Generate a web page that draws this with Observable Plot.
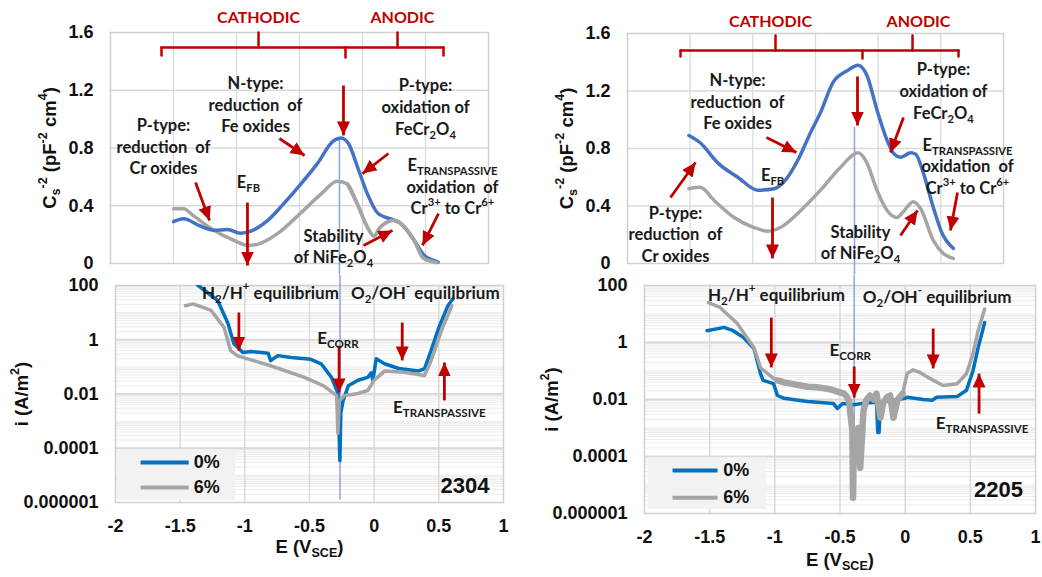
<!DOCTYPE html>
<html><head><meta charset="utf-8">
<script src="https://cdn.jsdelivr.net/npm/d3@7"></script>
<script src="https://cdn.jsdelivr.net/npm/@observablehq/plot@0.6"></script>
<style>
body{margin:0;background:#fff}
#wrap{position:relative;width:1042px;height:577px;overflow:hidden;background:#fff}
</style>
</head><body><div id="wrap"></div>
<script>
// ---------- DATA ----------
// Mott-Schottky, 2304
const ms2304E0 = [-1.5,-1.42,-1.29,-1.18,-1.07,-0.97,-0.87,-0.75,-0.63,-0.49,-0.36,-0.23,-0.17,-0.11,-0.04,0.04,0.12,0.25,0.30,0.41,0.49,0.57,0.60];
const ms2304C0 = [0.29,0.31,0.26,0.23,0.235,0.21,0.23,0.30,0.41,0.55,0.69,0.85,0.87,0.83,0.67,0.48,0.35,0.30,0.28,0.16,0.055,0.02,0.01];
const ms2304E6 = [-1.5,-1.42,-1.34,-1.18,-1.02,-0.91,-0.81,-0.67,-0.49,-0.33,-0.2,-0.12,-0.04,0.04,0.09,0.14,0.25,0.30,0.41,0.48,0.59];
const ms2304C6 = [0.38,0.38,0.33,0.23,0.16,0.125,0.14,0.21,0.35,0.48,0.57,0.55,0.41,0.25,0.19,0.25,0.30,0.28,0.16,0.04,0.007];
// Mott-Schottky, 2205
const ms2205E0 = [-1.51,-1.42,-1.28,-1.12,-0.96,-0.83,-0.75,-0.64,-0.54,-0.46,-0.36,-0.25,-0.16,-0.09,-0.01,0.07,0.12,0.18,0.26,0.30,0.36,0.44,0.51,0.60];
const ms2205C0 = [0.89,0.84,0.70,0.60,0.51,0.52,0.57,0.72,0.91,1.05,1.26,1.34,1.38,1.31,1.07,0.86,0.77,0.74,0.77,0.76,0.63,0.39,0.21,0.105];
const ms2205E6 = [-1.51,-1.42,-1.31,-1.15,-0.99,-0.88,-0.78,-0.64,-0.46,-0.30,-0.16,-0.09,-0.01,0.07,0.15,0.20,0.28,0.34,0.44,0.52,0.60];
const ms2205C6 = [0.52,0.53,0.44,0.32,0.25,0.225,0.25,0.35,0.51,0.67,0.77,0.70,0.51,0.37,0.32,0.36,0.43,0.38,0.16,0.07,0.035];
// Polarization, 2304
const pol2304E0 = [-1.40,-1.36,-1.21,-1.13,-1.085,-1.015,-0.95,-0.82,-0.80,-0.745,-0.64,-0.49,-0.41,-0.33,-0.28,-0.265,-0.258,-0.24,-0.20,-0.125,-0.05,-0.023,-0.01,0.016,0.08,0.19,0.34,0.39,0.44,0.50,0.57,0.61];
const pol2304I0 = [150,100,28,4,0.72,0.34,0.37,0.32,0.17,0.26,0.22,0.19,0.13,0.041,0.0105,0.000035,0.002,0.0057,0.02,0.032,0.041,0.06,0.032,0.2,0.13,0.087,0.07,0.087,0.4,2.8,18,33];
const pol2304E6 = [-1.46,-1.40,-1.26,-1.16,-1.11,-1.06,-1.01,-0.80,-0.54,-0.39,-0.29,-0.28,-0.27,-0.23,-0.125,-0.05,0.0,0.08,0.23,0.39,0.44,0.52,0.60];
const pol2304I6 = [18,21,12,2.8,0.4,0.26,0.22,0.11,0.041,0.02,0.0087,0.00035,0.0057,0.0087,0.0105,0.0135,0.032,0.07,0.063,0.048,0.17,2.2,18];
// Polarization, 2205
const pol2205E0 = [-1.52,-1.39,-1.32,-1.24,-1.16,-1.11,-1.09,-1.01,-0.98,-0.93,-0.75,-0.55,-0.52,-0.48,-0.40,-0.30,-0.22,-0.21,-0.20,-0.19,-0.11,0.0,0.015,0.14,0.21,0.24,0.40,0.47,0.52,0.56,0.61];
const pol2205I0 = [2.6,3.4,2.6,1.5,0.61,0.081,0.047,0.036,0.0138,0.011,0.0085,0.0072,0.0048,0.0072,0.0065,0.0075,0.008,0.0007,0.0007,0.008,0.009,0.011,0.012,0.01,0.0095,0.012,0.0127,0.021,0.1,0.66,5];
const pol2205E6 = [-1.51,-1.42,-1.29,-1.16,-1.11,-1.01,-0.98,-0.93,-0.88,-0.80,-0.75,-0.68,-0.63,-0.56,-0.52,-0.47,-0.45,-0.43,-0.42,-0.405,-0.40,-0.395,-0.38,-0.36,-0.345,-0.32,-0.30,-0.27,-0.24,-0.22,-0.19,-0.17,-0.14,-0.115,-0.09,-0.06,-0.02,0.015,0.06,0.11,0.19,0.29,0.40,0.47,0.52,0.56,0.61];
const pol2205I6 = [25,17,4.7,0.66,0.13,0.055,0.047,0.04,0.036,0.031,0.028,0.027,0.025,0.022,0.019,0.016,0.013,0.009,0.0032,0.0008,0.0000036,0.0002,0.00036,0.001,0.00004,0.004,0.009,0.0138,0.01,0.016,0.0023,0.0072,0.012,0.0138,0.0023,0.0095,0.016,0.081,0.11,0.09,0.055,0.031,0.036,0.08,0.4,2.6,15];

// Ticks
const xTickValues = [-2,-1.5,-1,-0.5,0,0.5,1];
const xTickLabels = ["-2","-1.5","-1","-0.5","0","0.5","1"];
const msTickValues = [0,0.4,0.8,1.2,1.6];
const msTickLabels = ["0","0.4","0.8","1.2","1.6"];
const polTickValues = [100,1,0.01,0.0001,0.000001];
const polTickLabels = ["100","1","0.01","0.0001","0.000001"];
const seriesNames = ["0%","6%"];

// Annotations (data coordinates)
const ms2304Notes = [
  {x:-1.579,y:0.817,t:"P-type:\nreduction  of\nCr oxides"},
  {x:-0.849,y:1.108,t:"N-type:\nreduction  of\nFe oxides"},
  {x:0.50,y:1.094,t:"P-type:\noxidation of\nFeCr_{2}O_{4}"},
  {x:-0.905,y:0.575,t:"E_{FB}"},
  {x:0.714,y:0.54,t:"E_{TRANSPASSIVE}\noxidation  of\nCr^{3+} to Cr^{6+}"},
  {x:-0.23,y:0.125,t:"Stability\nof NiFe_{2}O_{4}"}
];
const ms2304Arrows = [
  {x1:-1.325,y1:0.561,x2:-1.214,y2:0.298},
  {x1:-0.659,y1:0.866,x2:-0.460,y2:0.748},
  {x1:-0.151,y1:1.233,x2:-0.151,y2:0.887},
  {x1:0.206,y1:0.762,x2:0.0,y2:0.623},
  {x1:-0.913,y1:0.422,x2:-0.913,y2:-0.014},
  {x1:0.008,y1:0.125,x2:0.238,y2:0.229},
  {x1:0.603,y1:0.346,x2:0.476,y2:0.125}
];
const ms2304Bracket = [
  {x1:-1.595,y1:1.44,x2:-1.595,y2:1.496},{x1:-1.595,y1:1.496,x2:0.643,y2:1.496},{x1:0.643,y1:1.496,x2:0.643,y2:1.44},
  {x1:-0.825,y1:1.496,x2:-0.825,y2:1.6},{x1:0.278,y1:1.496,x2:0.278,y2:1.6},{x1:-0.135,y1:1.496,x2:-0.135,y2:1.427}
];
const ms2304Regions = [{x:-0.825,y:1.704,t:"CATHODIC"},{x:0.317,y:1.704,t:"ANODIC"}];

const ms2205Notes = [
  {x:-1.122,y:1.134,t:"N-type:\nreduction  of\nFe oxides"},
  {x:0.521,y:1.21,t:"P-type:\noxidation of\nFeCr_{2}O_{4}"},
  {x:-0.843,y:0.626,t:"E_{FB}"},
  {x:0.713,y:0.682,t:"E_{TRANSPASSIVE}\noxidation  of\nCr^{3+} to Cr^{6+}"},
  {x:-1.617,y:0.209,t:"P-type:\nreduction  of\nCr oxides"},
  {x:-0.141,y:0.153,t:"Stability\nof NiFe_{2}O_{4}"}
];
const ms2205Arrows = [
  {x1:-1.657,y1:0.459,x2:-1.457,y2:0.703},
  {x1:-0.891,y1:0.877,x2:-0.652,y2:0.772},
  {x1:-0.165,y1:1.301,x2:-0.165,y2:0.96},
  {x1:0.202,y1:1.016,x2:0.098,y2:0.772},
  {x1:-0.843,y1:0.459,x2:-0.843,y2:0.035},
  {x1:0.178,y1:0.195,x2:0.314,y2:0.369},
  {x1:0.633,y1:0.494,x2:0.577,y2:0.23}
];
const ms2205Bracket = [
  {x1:-1.577,y1:1.44,x2:-1.577,y2:1.482},{x1:-1.577,y1:1.482,x2:0.641,y2:1.482},{x1:0.641,y1:1.482,x2:0.641,y2:1.44},
  {x1:-0.819,y1:1.482,x2:-0.819,y2:1.586},{x1:0.274,y1:1.482,x2:0.274,y2:1.586},{x1:-0.125,y1:1.482,x2:-0.125,y2:1.426}
];
const ms2205Regions = [{x:-0.859,y:1.683,t:"CATHODIC"},{x:0.322,y:1.683,t:"ANODIC"}];

const pol2304Notes = [
  {x:-0.802,y:50.7,t:"H_{2}/H^{+} equilibrium"},
  {x:0.395,y:50.7,t:"O_{2}/OH^{-} equilibrium"},
  {x:-0.28,y:1.11,t:"E_{CORR}"},
  {x:0.504,y:0.00316,t:"E_{TRANSPASSIVE}"}
];
const pol2304Arrows = [
  {x1:-1.046,y1:10.1,x2:-1.046,y2:0.40},
  {x1:-0.271,y1:0.61,x2:-0.271,y2:0.0114},
  {x1:0.217,y1:4.3,x2:0.217,y2:0.172},
  {x1:0.543,y1:0.0058,x2:0.543,y2:0.145}
];
const pol2205Notes = [
  {x:-0.988,y:44.5,t:"H_{2}/H^{+} equilibrium"},
  {x:0.245,y:38,t:"O_{2}/OH^{-} equilibrium"},
  {x:-0.421,y:0.525,t:"E_{CORR}"},
  {x:0.59,y:0.00145,t:"E_{TRANSPASSIVE}"}
];
const pol2205Arrows = [
  {x1:-1.027,y1:7.5,x2:-1.027,y2:0.133},
  {x1:-0.391,y1:0.144,x2:-0.391,y2:0.0117},
  {x1:0.215,y1:3.1,x2:0.215,y2:0.123},
  {x1:0.567,y1:0.0032,x2:0.567,y2:0.081}
];

// ---------- STYLE ----------
const RED = "#c00000", BLUE_TOP = "#4472c4", BLUE_BOT = "#0070c0", GRAY = "#a5a5a5", VLINE = "#86a6dc";
const AXFONT = "'Liberation Sans', Arial, sans-serif";
const NOTEFONT = "Lato, 'Open Sans', sans-serif";
const GRID = "#d9d9d9";
const svgStyle = {fontFamily: AXFONT, fontSize: "18px", fontWeight: "bold", color: "#111", overflow: "visible", background: "transparent"};

const xLabel = new Map(xTickValues.map((v,i)=>[v,xTickLabels[i]]));
const msLabel = new Map(msTickValues.map((v,i)=>[v,msTickLabels[i]]));
const polLabel = new Map(polTickValues.map((v,i)=>[v,polTickLabels[i]]));
const innerX = xTickValues.slice(1,-1);
const minorY = [];
for (let k = -6; k < 2; k++) for (let d = 2; d <= 10; d++) minorY.push(d * Math.pow(10, k));

function richify(svg) {
  const nodes = [];
  const w = document.createTreeWalker(svg, NodeFilter.SHOW_TEXT);
  let n; while ((n = w.nextNode())) if (/[_^]\{/.test(n.data)) nodes.push(n);
  for (const node of nodes) {
    const frag = document.createDocumentFragment();
    const re = /([_^])\{([^}]*)\}/g; let last = 0, m; const s = node.data;
    while ((m = re.exec(s))) {
      if (m.index > last) frag.appendChild(document.createTextNode(s.slice(last, m.index)));
      const ts = document.createElementNS("http://www.w3.org/2000/svg", "tspan");
      ts.setAttribute("font-size", "68%");
      ts.setAttribute("baseline-shift", m[1] === "_" ? "-0.35em" : "0.75em");
      ts.textContent = m[2];
      frag.appendChild(ts);
      last = re.lastIndex;
    }
    if (last < s.length) frag.appendChild(document.createTextNode(s.slice(last)));
    node.parentNode.replaceChild(frag, node);
  }
}
function fixMarkers(svg) {
  svg.querySelectorAll("marker").forEach(mk => {
    mk.setAttribute("viewBox", "-14 -7 14 14");
    mk.setAttribute("markerUnits", "userSpaceOnUse");
    mk.setAttribute("markerWidth", "14");
    mk.setAttribute("markerHeight", "14");
    mk.setAttribute("refX", "0"); mk.setAttribute("refY", "0");
    const p = mk.querySelector("path");
    if (p) { p.setAttribute("d", "M-14,-6.5L0,0L-14,6.5Z"); p.setAttribute("fill", RED); p.setAttribute("stroke", "none"); }
  });
}
function place(svg, left, top) {
  svg.style.position = "absolute"; svg.style.left = left + "px"; svg.style.top = top + "px";
  richify(svg); fixMarkers(svg);
  document.getElementById("wrap").appendChild(svg);
}

function msChart(o) {
  return Plot.plot({
    width: o.width, height: 275,
    marginLeft: o.ml, marginRight: o.mr, marginTop: o.mt, marginBottom: 12,
    x: {domain: [-2, 1], axis: null},
    y: {domain: [0, 1.6], axis: null},
    style: svgStyle,
    marks: [
      Plot.ruleY(msTickValues.slice(1, -1), {stroke: GRID, strokeWidth: 1.3}),
      Plot.ruleX(innerX, {stroke: GRID, strokeWidth: 1.3}),
      Plot.frame({stroke: "#d0d0d0", strokeWidth: 1.5}),
      Plot.axisY(msTickValues, {tickSize: 0, tickPadding: 17, tickFormat: d => msLabel.get(d), fill: "#111"}),
      Plot.text(["C_{s}^{-2} (pF^{-2} cm^{4})"], {frameAnchor: "left", textAnchor: "middle", rotate: -90, dx: -60, fontSize: 18.5, fontWeight: "bold", fontFamily: AXFONT, fill: "#111"}),
      Plot.ruleX([o.vx], {y1: o.vTop, y2: -0.08, stroke: VLINE, strokeWidth: 1.5}),
      Plot.line(o.C6, {x: o.E6, y: o.C6, stroke: GRAY, strokeWidth: 3.5, curve: "monotone-x"}),
      Plot.line(o.C0, {x: o.E0, y: o.C0, stroke: BLUE_TOP, strokeWidth: 3.5, curve: "monotone-x"}),
      Plot.line(o.C6.slice(o.grayFrom), {x: o.E6.slice(o.grayFrom), y: o.C6.slice(o.grayFrom), stroke: GRAY, strokeWidth: 3.5, curve: "monotone-x"}),
      Plot.link(o.bracket, {x1: "x1", y1: "y1", x2: "x2", y2: "y2", stroke: RED, strokeWidth: 2.5, strokeLinecap: "round"}),
      Plot.text(o.regions, {x: "x", y: "y", text: "t", fill: RED, fontFamily: NOTEFONT, fontWeight: "bold", fontSize: 16}),
      Plot.link(o.arrows, {x1: "x1", y1: "y1", x2: "x2", y2: "y2", stroke: RED, strokeWidth: 2.8, markerEnd: "arrow"}),
      Plot.text(o.notes, {x: "x", y: "y", text: "t", fill: "#1a1a1a", fontFamily: NOTEFONT, fontWeight: "bold", fontSize: 16.5, lineHeight: 1.33})
    ]
  });
}

function polChart(o) {
  const band = o.band ? Plot.line(o.I6.slice(o.band[0], o.band[1]), {x: o.E6.slice(o.band[0], o.band[1]), y: o.I6.slice(o.band[0], o.band[1]), stroke: GRAY, strokeWidth: 6.5, strokeLinejoin: "round", clip: true}) : null;
  return Plot.plot({
    width: o.width, height: 302,
    marginLeft: o.ml, marginRight: o.mr, marginTop: 10, marginBottom: o.mb,
    x: {domain: [-2, 1], axis: null},
    y: {type: "log", domain: [1e-6, 100], axis: null},
    style: svgStyle,
    marks: [
      Plot.ruleY(minorY, {stroke: "#ececec", strokeWidth: 1}),
      Plot.ruleY(polTickValues.slice(1, -1), {stroke: GRID, strokeWidth: 2}),
      Plot.ruleX(innerX, {stroke: GRID, strokeWidth: 1.5}),
      Plot.frame({stroke: "#d0d0d0", strokeWidth: 1.5}),
      Plot.axisY(polTickValues, {tickSize: 0, tickPadding: 17, tickFormat: d => polLabel.get(d), fill: "#111"}),
      Plot.axisX(xTickValues, {tickSize: 0, tickPadding: 17, tickFormat: d => xLabel.get(d), fill: "#111"}),
      Plot.text(["i (A/m^{2})"], {frameAnchor: "left", textAnchor: "middle", rotate: -90, dx: o.ydx, fontSize: 18.5, fontWeight: "bold", fontFamily: AXFONT, fill: "#111"}),
      Plot.text(["E (V_{SCE})"], {frameAnchor: "bottom", dy: o.xdy, fontSize: 18.5, fontWeight: "bold", fontFamily: AXFONT, fill: "#111"}),
      Plot.rect([o.legend], {x1: "x1", x2: "x2", y1: "y1", y2: "y2", fill: "#f2f2f2"}),
      Plot.link([o.legend], {x1: "lx1", x2: "lx2", y1: "ly0", y2: "ly0", stroke: BLUE_BOT, strokeWidth: 4}),
      Plot.link([o.legend], {x1: "lx1", x2: "lx2", y1: "ly6", y2: "ly6", stroke: GRAY, strokeWidth: 4}),
      Plot.text([o.legend], {x: "tx", y: "ly0", text: () => seriesNames[0], textAnchor: "start", fontSize: 18, fill: "#111"}),
      Plot.text([o.legend], {x: "tx", y: "ly6", text: () => seriesNames[1], textAnchor: "start", fontSize: 18, fill: "#111"}),
      Plot.text([o.legend], {x: "gx", y: "gy", text: "grade", textAnchor: "end", fontSize: 22, fill: "#111"}),
      Plot.ruleX([o.vx], {y1: o.vTop, y2: o.vBot, stroke: VLINE, strokeWidth: 1.5}),
      Plot.line(o.I0, {x: o.E0, y: o.I0, stroke: BLUE_BOT, strokeWidth: 3.5, clip: true}),
      Plot.line(o.I6, {x: o.E6, y: o.I6, stroke: GRAY, strokeWidth: 3.5, clip: true}),
      band,
      Plot.link(o.arrows, {x1: "x1", y1: "y1", x2: "x2", y2: "y2", stroke: RED, strokeWidth: 2.8, markerEnd: "arrow"}),
      Plot.text(o.notes, {x: "x", y: "y", text: "t", fill: "#1a1a1a", fontFamily: NOTEFONT, fontWeight: "bold", fontSize: 17})
    ]
  });
}

// ---------- BUILD ----------
place(msChart({width: 520, ml: 110, mr: 32, mt: 32, E0: ms2304E0, C0: ms2304C0, E6: ms2304E6, C6: ms2304C6, grayFrom: 11,
  notes: ms2304Notes, arrows: ms2304Arrows, bracket: ms2304Bracket, regions: ms2304Regions, vx: -0.183, vTop: 0.873}), 0, 0);
place(msChart({width: 522, ml: 107, mr: 39, mt: 33, E0: ms2205E0, C0: ms2205C0, E6: ms2205E6, C6: ms2205C6, grayFrom: 21,
  notes: ms2205Notes, arrows: ms2205Arrows, bracket: ms2205Bracket, regions: ms2205Regions, vx: -0.189, vTop: 0.946}), 520, 0);
place(polChart({width: 520, ml: 115, mr: 17, mb: 75, ydx: -93, xdy: 50, E0: pol2304E0, I0: pol2304I0, E6: pol2304E6, I6: pol2304I6,
  notes: pol2304Notes, arrows: pol2304Arrows, vx: -0.264, vTop: 234, vBot: 1.2e-6,
  legend: {x1: -1.984, x2: -1.07, y1: 1.2e-6, y2: 9e-5, lx1: -1.806, lx2: -1.434, ly0: 3e-5, ly6: 3.6e-6, tx: -1.395, gx: 0.891, gy: 4.2e-6, grade: "2304"}}), 0, 275);
place(polChart({width: 522, ml: 124, mr: 7, mb: 64, ydx: -92, xdy: 52, E0: pol2205E0, I0: pol2205I0, E6: pol2205E6, I6: pol2205I6, band: [6, 37],
  notes: pol2205Notes, arrows: pol2205Arrows, vx: -0.391, vTop: 224, vBot: 3.6e-6,
  legend: {x1: -1.969, x2: -1.065, y1: 1.38e-6, y2: 9.2e-5, lx1: -1.785, lx2: -1.44, ly0: 3.2e-5, ly6: 3.6e-6, tx: -1.395, gx: 0.904, gy: 6.5e-6, grade: "2205"}}), 520, 275);
</script></body></html>
